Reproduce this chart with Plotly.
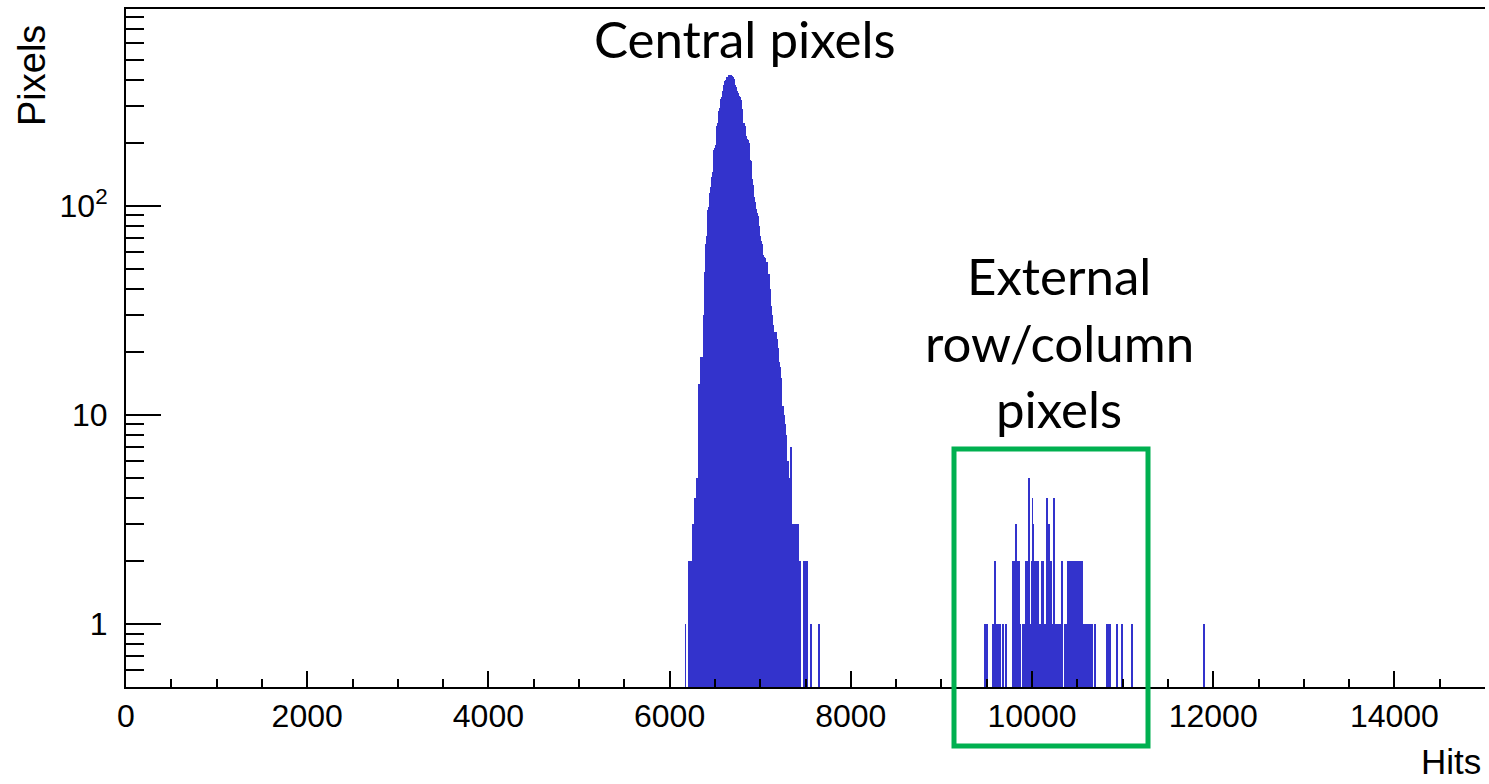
import numpy as np
import plotly.graph_objects as go

# ---- histogram data (bin width 10 hits) ----
BIN_WIDTH = 10

# central pixels: consecutive bins starting at 6170 hits
central_first_bin = 6170
central_counts = [
    1, 0, 0, 0, 2, 2, 2, 2, 3, 3,
    4, 4, 4, 5, 5, 14, 14, 19, 19, 19,
    30, 43, 48, 66, 72, 95, 99, 115, 123, 138,
    145, 150, 185, 190, 196, 240, 250, 285, 292, 325,
    332, 355, 365, 380, 395, 400, 415, 405, 420, 410,
    422, 418, 400, 415, 405, 380, 370, 355, 345, 335,
    330, 320, 290, 290, 250, 248, 240, 215, 208, 206,
    200, 165, 164, 135, 132, 126, 110, 104, 97, 92,
    89, 80, 72, 68, 66, 55, 58, 57, 56, 53,
    54, 36, 47, 40, 33, 33, 30, 27, 21, 25,
    25, 23, 21, 18, 17, 15, 8, 11, 11, 10,
    9, 8, 5, 6, 5, 4, 7, 7, 3, 3,
    3, 3, 3, 1, 3, 1, 2, 2, 0, 0,
    0, 2, 2, 1, 2, 0, 0, 0, 0, 1,
    0, 0, 0, 0, 0, 0, 0, 1,
]

# external row/column pixels: sparse bins (lower edge, count)
outer_bins = [
    9480, 9490, 9500, 9560, 9590, 9610, 9630, 9640, 9670, 9680, 9710,
    9780, 9790, 9800, 9810, 9820, 9830, 9840, 9850, 9860,
    9890, 9910, 9930, 9940, 9950, 9960, 9970, 9980, 9990, 10000, 10010,
    10020, 10030, 10040, 10050, 10060, 10070, 10080, 10090, 10100,
    10110, 10120, 10130, 10140, 10150, 10160, 10170, 10180, 10190, 10200,
    10210, 10220, 10240, 10250, 10260, 10270, 10280, 10290, 10300, 10310,
    10330, 10360, 10370, 10390, 10400, 10410, 10430, 10440, 10450, 10460,
    10470, 10480, 10500, 10510, 10520, 10530, 10540, 10550,
    10570, 10580, 10590, 10600, 10610, 10620, 10630, 10640, 10660, 10690,
    10820, 10830, 10860, 10930, 10990, 11100, 11890,
]
outer_counts = [
    1, 1, 1, 1, 2, 1, 1, 1, 1, 1, 1,
    2, 2, 2, 2, 3, 1, 2, 2, 1,
    1, 1, 2, 2, 1, 5, 1, 1, 2, 4, 3,
    2, 1, 2, 2, 2, 1, 1, 1, 1,
    2, 2, 1, 1, 1, 4, 1, 3, 2, 1,
    2, 1, 4, 1, 1, 1, 1, 1, 1, 1,
    2, 1, 1, 2, 2, 2, 2, 2, 2, 1,
    2, 2, 2, 2, 2, 2, 2, 2,
    1, 1, 1, 1, 1, 1, 1, 1, 1, 1,
    1, 1, 1, 1, 1, 1, 1,
]

x_tick_vals = [0, 2000, 4000, 6000, 8000, 10000, 12000, 14000]
x_tick_text = ["0", "2000", "4000", "6000", "8000", "10000", "12000", "14000"]
y_tick_vals = [1, 10, 100]
y_tick_text = ["1", "10", "10<sup>2</sup>"]
y_minor_vals = [0.6, 0.7, 0.8, 0.9,
                2, 3, 4, 5, 6, 7, 8, 9,
                20, 30, 40, 50, 60, 70, 80, 90,
                200, 300, 400, 500, 600, 700, 800]

# ---- assemble bins ----
central_edges = central_first_bin + BIN_WIDTH * np.arange(len(central_counts))
edges = np.concatenate([central_edges, np.array(outer_bins)])
counts = np.concatenate([np.array(central_counts), np.array(outer_counts)])
keep = counts > 0
centers = edges[keep] + BIN_WIDTH / 2
counts = counts[keep]

# ---- geometry helpers (canvas pixels -> paper coords) ----
W, H = 1489, 784
L, R, T, B = 126, 1485, 9, 687


def px_x(x):
    return (x - L) / (R - L)


def px_y(y):
    return (B - y) / (B - T)


BAR_COLOR = "rgb(51,51,204)"
FONT_AXIS = "Liberation Sans, Arial, sans-serif"
FONT_NOTE = "Lato, Carlito, Calibri, sans-serif"

fig = go.Figure()
fig.add_trace(go.Bar(
    x=centers, y=counts, width=BIN_WIDTH,
    marker=dict(color=BAR_COLOR, line=dict(width=0)),
    showlegend=False, hoverinfo="x+y",
))

fig.update_layout(
    width=W, height=H,
    margin=dict(l=L, r=W - R, t=T, b=H - B),
    paper_bgcolor="white", plot_bgcolor="white",
    bargap=0,
    xaxis=dict(
        range=[0, 15000],
        tickvals=x_tick_vals, ticktext=x_tick_text,
        ticks="inside", ticklen=16, tickwidth=1.5, tickcolor="black",
        minor=dict(dtick=500, tick0=0, ticks="inside", ticklen=8,
                   tickwidth=1.5, tickcolor="black", showgrid=False),
        showline=True, linecolor="black", linewidth=1.5, mirror=True,
        showgrid=False, zeroline=False,
        tickfont=dict(family=FONT_AXIS, size=32, color="black"),
    ),
    yaxis=dict(
        type="log",
        range=[np.log10(0.5), np.log10(873)],
        tickvals=y_tick_vals, ticktext=y_tick_text,
        ticks="inside", ticklen=35, tickwidth=1.5, tickcolor="black",
        minor=dict(tickvals=y_minor_vals, ticks="inside", ticklen=18,
                   tickwidth=1.5, tickcolor="black", showgrid=False),
        showline=True, linecolor="black", linewidth=2,
        showgrid=False, zeroline=False,
        ticklabelstandoff=10,
        tickfont=dict(family=FONT_AXIS, size=32, color="black"),
    ),
)

# axis titles
fig.add_annotation(
    text="Pixels", xref="paper", yref="paper",
    x=px_x(32), y=px_y(76), textangle=-90, showarrow=False,
    xanchor="center", yanchor="middle",
    font=dict(family=FONT_AXIS, size=38, color="black"),
)
fig.add_annotation(
    text="Hits", xref="paper", yref="paper",
    x=px_x(1483), y=px_y(783), showarrow=False,
    xanchor="right", yanchor="bottom",
    font=dict(family=FONT_AXIS, size=35, color="black"),
)

# region labels
fig.add_annotation(
    text="Central pixels", xref="paper", yref="paper",
    x=px_x(745), y=px_y(38), showarrow=False,
    xanchor="center", yanchor="middle",
    font=dict(family=FONT_NOTE, size=51, color="black"),
)
for line, yc in [("External", 276), ("row/column", 343), ("pixels", 408)]:
    fig.add_annotation(
        text=line, xref="paper", yref="paper",
        x=px_x(1059), y=px_y(yc), showarrow=False,
        xanchor="center", yanchor="middle",
        font=dict(family=FONT_NOTE, size=51, color="black"),
    )

# highlight box around the external-pixel cluster
fig.add_shape(
    type="rect", xref="paper", yref="paper",
    x0=px_x(954), x1=px_x(1148), y0=px_y(746), y1=px_y(449),
    line=dict(color="rgb(0,176,80)", width=5), fillcolor="rgba(0,0,0,0)",
)

fig.write_html("out.html")
